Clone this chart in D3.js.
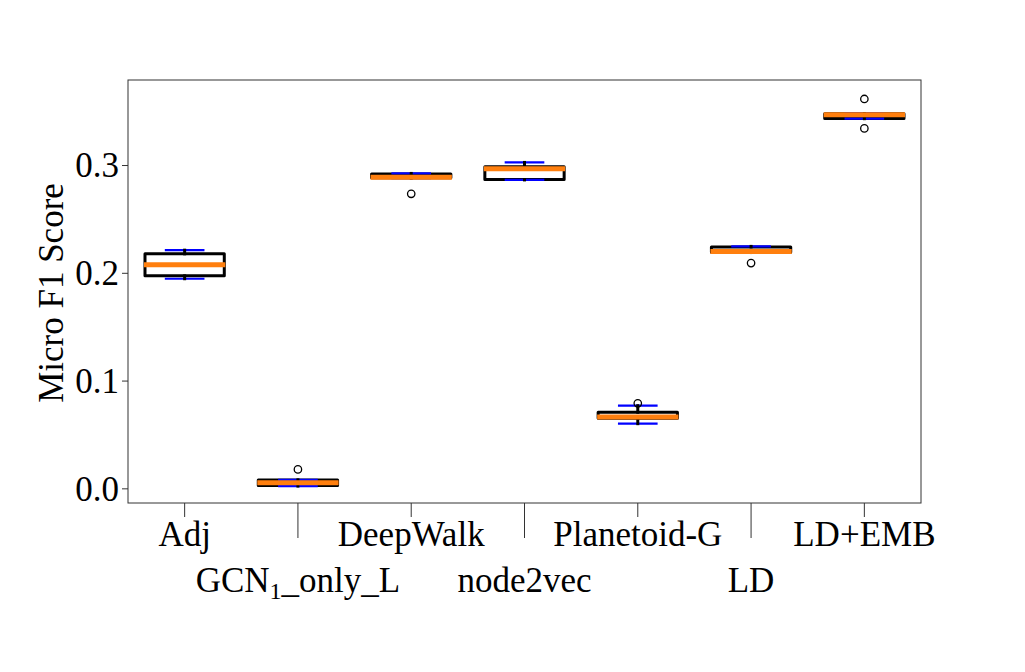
<!DOCTYPE html>
<html>
<head>
<meta charset="utf-8">
<script src="https://cdn.jsdelivr.net/npm/d3@7"></script>
<style>
  body { margin: 0; background: #ffffff; }
  text { font-family: "Liberation Serif", "Times New Roman", serif; fill: #000; }
</style>
</head>
<body>
<div id="chart"></div>
<script>
// box statistics per method
const methods = ["Adj", "GCN1_only_L", "DeepWalk", "node2vec", "Planetoid-G", "LD", "LD+EMB"];
const lowerWhisker = [0.1945, 0.0021, 0.2878, 0.2862, 0.0600, 0.2188, 0.3430];
const q1 = [0.1972, 0.0026, 0.2882, 0.2866, 0.0650, 0.2190, 0.3432];
const medians = [0.2074, 0.0051, 0.2886, 0.2966, 0.0662, 0.2197, 0.3467];
const q3 = [0.2176, 0.0077, 0.2916, 0.2985, 0.0706, 0.2240, 0.3475];
const upperWhisker = [0.2210, 0.0079, 0.2922, 0.3024, 0.0767, 0.2245, 0.3478];
const fliers = [[], [0.0176], [0.2733], [], [0.0789], [0.2090], [0.3613, 0.3340]];
const yTicks = [0.0, 0.1, 0.2, 0.3];

const width = 1025;
const height = 672;
const margin = { top: 80, right: 104, bottom: 169, left: 128 };
const boxWidth = 0.7;
const capWidth = 0.35;

const svg = d3.select("#chart").append("svg").attr("width", width).attr("height", height);

const x = d3.scaleLinear().domain([0.5, methods.length + 0.5]).range([margin.left, width - margin.right]);
const y = d3.scaleLinear().domain([-0.0136, 0.3789]).range([height - margin.bottom, margin.top]);

const boxes = methods.map((m, i) => ({
    name: m,
    pos: i + 1,
    lw: lowerWhisker[i],
    q1: q1[i],
    med: medians[i],
    q3: q3[i],
    uw: upperWhisker[i],
    fliers: fliers[i]
}));

// y axis
const yAxis = svg.append("g").attr("transform", `translate(${margin.left},0)`)
    .call(d3.axisLeft(y).tickValues(yTicks).tickFormat(d3.format(".1f")).tickSize(6).tickPadding(3));
yAxis.select(".domain").remove();
yAxis.selectAll(".tick line").attr("stroke", "#333").attr("stroke-width", 1);
yAxis.selectAll(".tick text").style("font-size", "35px").style("font-family", "Liberation Serif").attr("dy", "0.34em");

// x ticks, alternating length so labels sit on two rows
const xTicks = svg.append("g").selectAll("g").data(boxes).join("g")
    .attr("transform", d => `translate(${x(d.pos)},${height - margin.bottom})`);
xTicks.append("line").attr("y1", 0).attr("y2", (d, i) => i % 2 === 0 ? 14 : 35)
    .attr("stroke", "#333").attr("stroke-width", 1);
const xLabels = xTicks.append("text").attr("text-anchor", "middle")
    .attr("y", (d, i) => i % 2 === 0 ? 43 : 89)
    .style("font-size", "35px");
xLabels.each(function (d) {
    const t = d3.select(this);
    if (d.name === "GCN1_only_L") {
        t.append("tspan").text("GCN");
        t.append("tspan").attr("dy", 7).style("font-size", "24px").text("1");
        t.append("tspan").attr("dy", -7).text("_only_L");
    } else {
        t.text(d.name);
    }
});

// y label
svg.append("text").attr("transform", `translate(63,293) rotate(-90)`)
    .attr("text-anchor", "middle").style("font-size", "35px").text("Micro F1 Score");

const plot = svg.append("g");

// boxes
plot.selectAll(".box").data(boxes).join("rect")
    .attr("class", "box")
    .attr("x", d => x(d.pos - boxWidth / 2))
    .attr("width", d => x(d.pos + boxWidth / 2) - x(d.pos - boxWidth / 2))
    .attr("y", d => y(d.q3))
    .attr("height", d => y(d.q1) - y(d.q3))
    .attr("fill", "none").attr("stroke", "#000").attr("stroke-width", 3).attr("stroke-linejoin", "round");

// caps
plot.selectAll(".cap").data(boxes.flatMap(d => [{ pos: d.pos, v: d.lw }, { pos: d.pos, v: d.uw }])).join("line")
    .attr("class", "cap")
    .attr("x1", d => x(d.pos - capWidth / 2)).attr("x2", d => x(d.pos + capWidth / 2))
    .attr("y1", d => y(d.v)).attr("y2", d => y(d.v))
    .attr("stroke", "#0000ff").attr("stroke-width", 2.2);

// whiskers
plot.selectAll(".whisker").data(boxes.flatMap(d => [{ pos: d.pos, a: d.q1, b: d.lw }, { pos: d.pos, a: d.q3, b: d.uw }])).join("line")
    .attr("class", "whisker")
    .attr("x1", d => x(d.pos)).attr("x2", d => x(d.pos))
    .attr("y1", d => y(d.a)).attr("y2", d => y(d.b))
    .attr("stroke", "#000").attr("stroke-width", 3).attr("stroke-linecap", "square");

// medians
plot.selectAll(".median").data(boxes).join("line")
    .attr("class", "median")
    .attr("x1", d => x(d.pos - boxWidth / 2) - 1).attr("x2", d => x(d.pos + boxWidth / 2) + 1)
    .attr("y1", d => y(d.med)).attr("y2", d => y(d.med))
    .attr("stroke", "#ff7f0e").attr("stroke-width", 5);

// fliers
plot.selectAll(".flier").data(boxes.flatMap(d => d.fliers.map(v => ({ pos: d.pos, v })))).join("circle")
    .attr("class", "flier")
    .attr("cx", d => x(d.pos)).attr("cy", d => y(d.v)).attr("r", 3.7)
    .attr("fill", "none").attr("stroke", "#000").attr("stroke-width", 1.3);

// frame
svg.append("rect").attr("x", margin.left).attr("y", margin.top)
    .attr("width", width - margin.left - margin.right).attr("height", height - margin.top - margin.bottom)
    .attr("fill", "none").attr("stroke", "#333").attr("stroke-width", 1);
</script>
</body>
</html>
